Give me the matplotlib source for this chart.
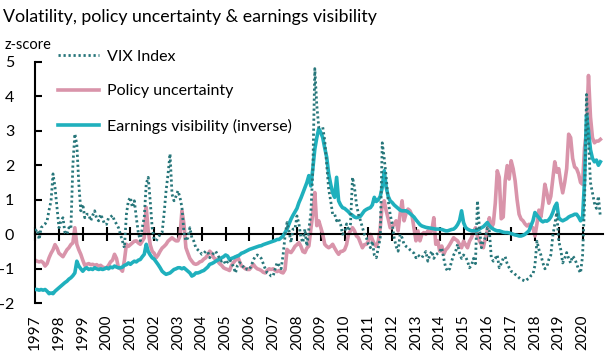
import numpy as np
import matplotlib
matplotlib.use("Agg")
import matplotlib.pyplot as plt

plt.rcParams['font.family'] = ['Lato', 'DejaVu Sans']
plt.rcParams['axes.unicode_minus'] = False

# monthly data, Jan 1997 - Oct 2020 (z-scores)
vix = [
    0.10, 0.15, -0.15, 0.19, 0.25, 0.30, 0.39, 0.70, 0.97, 1.75, 1.36, 0.78,      # 1997
    0.19, 0.39, 0.48, 0.05, 0.00, 0.19, 0.15, 2.00, 2.91, 2.60, 1.46, 0.68,       # 1998
    0.87, 0.48, 0.58, 0.58, 0.39, 0.55, 0.68, 0.45, 0.39, 0.58, 0.45, 0.29,       # 1999
    0.29, 0.48, 0.50, 0.55, 0.39, 0.30, 0.19, 0.00, -0.19, -0.39, 0.58, 0.97,     # 2000
    1.07, 0.78, 0.97, 0.48, 0.05, -0.19, 0.19, 0.50, 1.46, 1.65, 0.97, 0.19,      # 2001
    -0.15, -0.19, -0.10, 0.00, 0.05, 0.60, 1.26, 1.75, 2.33, 1.16, 0.97, 1.10,    # 2002
    1.26, 1.07, 0.78, 0.05, -0.19, -0.10, 0.19, -0.10, -0.20, -0.39, -0.45, -0.49,  # 2003
    -0.58, -0.55, -0.49, -0.50, -0.68, -0.60, -0.55, -0.49, -0.60, -0.70, -0.78, -0.75,  # 2004
    -0.87, -0.80, -0.73, -0.82, -0.95, -1.12, -0.90, -0.82, -0.85, -0.95, -1.02, -1.00,  # 2005
    -1.02, -0.90, -0.75, -0.63, -0.60, -0.63, -0.70, -0.85, -1.00, -1.12, -1.15, -1.21,  # 2006
    -1.21, -1.00, -0.82, -0.90, -1.00, -0.60, -0.05, 0.34, 0.10, -0.24, 0.15, 0.15,  # 2007
    0.53, 0.30, -0.10, -0.24, 0.15, -0.34, 0.15, 0.60, 1.84, 4.80, 3.73, 3.10,    # 2008
    3.10, 3.10, 2.72, 2.00, 1.30, 0.97, 0.58, 0.58, 0.39, 0.45, 0.29, 0.00,       # 2009
    0.05, 0.30, 0.10, 0.30, 1.65, 1.36, 0.87, 0.58, 0.40, 0.20, 0.00, -0.10,      # 2010
    -0.29, -0.39, -0.20, -0.60, -0.68, -0.40, -0.10, 2.65, 2.20, 1.65, 0.97, 0.58,  # 2011
    0.30, -0.10, -0.35, -0.49, 0.00, -0.10, -0.29, -0.35, -0.39, -0.45, -0.49, -0.55,  # 2012
    -0.68, -0.60, -0.65, -0.68, -0.58, -0.50, -0.78, -0.60, -0.49, -0.70, -0.60, -0.55,  # 2013
    -0.50, -0.39, -0.70, -0.97, -1.07, -1.00, -0.78, -0.60, -0.50, -0.29, -0.55, -0.70,  # 2014
    -0.60, -0.65, -0.78, -0.97, -0.90, -0.70, -0.85, 0.97, 0.19, -0.39, -0.20, -0.10,  # 2015
    0.19, 0.10, -0.68, -0.78, -0.70, -0.60, -0.97, -0.85, -0.70, -0.65, -0.85, -0.97,  # 2016
    -1.07, -1.10, -1.16, -1.20, -1.26, -1.31, -1.33, -1.36, -1.31, -1.28, -1.20, -1.16,  # 2017
    -0.90, -0.20, -0.44, -0.60, -0.83, -1.00, -0.95, -0.73, -0.60, -0.05, 0.30, 0.63,  # 2018
    -0.20, -0.44, -0.83, -0.70, -0.53, -0.70, -0.83, -0.63, -0.70, -0.85, -1.02, -1.12,  # 2019
    -0.63, 0.87, 4.05, 2.70, 1.50, 1.20, 0.90, 0.75, 1.10, 0.50,                  # 2020
]

policy = [
    -0.75, -0.78, -0.80, -0.78, -0.82, -0.92, -0.85, -0.68, -0.55, -0.45, -0.30, -0.40,  # 1997
    -0.55, -0.60, -0.65, -0.55, -0.45, -0.39, -0.30, -0.25, 0.19, -0.29, -0.45, -0.58,  # 1998
    -0.75, -0.90, -0.87, -0.85, -0.88, -0.87, -0.90, -0.88, -0.92, -0.90, -0.95, -0.97,  # 1999
    -0.97, -0.90, -0.80, -0.75, -0.58, -0.70, -0.97, -1.00, -1.07, -0.75, -0.29, -0.35,  # 2000
    -0.30, -0.25, -0.20, -0.19, -0.25, -0.29, -0.20, -0.10, 0.78, 0.10, -0.30, -0.49,  # 2001
    -0.55, -0.68, -0.60, -0.49, -0.40, -0.35, -0.29, -0.20, -0.15, -0.10, -0.15, -0.19,  # 2002
    -0.19, -0.05, 0.68, 0.30, -0.39, -0.55, -0.70, -0.78, -0.85, -0.87, -0.85, -0.80,  # 2003
    -0.78, -0.72, -0.68, -0.60, -0.49, -0.55, -0.68, -0.72, -0.78, -0.85, -0.90, -0.97,  # 2004
    -1.00, -1.02, -1.05, -0.90, -0.82, -0.75, -0.63, -0.78, -0.92, -0.95, -1.00, -1.02,  # 2005
    -1.02, -0.95, -0.87, -0.95, -1.00, -1.02, -1.05, -1.10, -1.12, -1.05, -1.00, -1.02,  # 2006
    -1.00, -1.05, -1.08, -1.05, -1.10, -1.12, -1.02, -0.44, -0.50, -0.53, -0.45, -0.35,  # 2007
    -0.30, -0.24, -0.35, -0.50, -0.53, -0.40, -0.34, 0.15, 0.60, 1.21, 0.25, 0.39,  # 2008
    0.20, 0.00, -0.29, -0.35, -0.39, -0.35, -0.29, -0.40, -0.50, -0.58, -0.50, -0.49,  # 2009
    -0.45, -0.30, 0.00, 0.10, 0.19, 0.10, -0.05, -0.10, -0.25, -0.39, -0.30, -0.29,  # 2010
    -0.20, 0.00, -0.15, -0.29, -0.35, -0.20, 0.19, 0.87, 0.97, 0.68, 0.45, 0.19,  # 2011
    0.19, 0.30, 0.39, 0.10, 0.58, 0.97, 0.39, 0.60, 0.73, 0.68, 0.55, 0.19,       # 2012
    -0.19, 0.10, -0.19, 0.00, 0.05, 0.00, 0.10, 0.05, 0.10, 0.48, -0.29, -0.19,   # 2013
    -0.49, -0.34, -0.58, -0.45, -0.39, -0.30, -0.20, -0.10, -0.15, -0.19, -0.30, -0.39,  # 2014
    -0.20, -0.30, -0.39, -0.20, -0.10, 0.05, 0.19, -0.05, -0.19, -0.30, -0.39, -0.10,  # 2015
    0.10, 0.48, 0.19, 0.30, 0.90, 1.84, 1.65, 0.45, 0.50, 1.55, 1.99, 1.60,       # 2016
    2.13, 1.90, 1.55, 1.00, 0.58, 0.44, 0.39, 0.30, 0.24, 0.29, 0.20, 0.19,       # 2017
    -0.05, 0.30, 0.70, 0.50, 0.90, 1.45, 1.20, 0.90, 1.10, 1.60, 2.10, 1.80,      # 2018
    1.90, 1.50, 1.20, 1.50, 1.90, 2.90, 2.80, 2.20, 1.95, 1.90, 1.75, 1.50,       # 2019
    1.45, 2.50, 3.00, 4.60, 3.40, 2.80, 2.65, 2.70, 2.70, 2.75,                   # 2020
]

earnings = [
    -1.60, -1.60, -1.62, -1.60, -1.62, -1.60, -1.65, -1.72, -1.70, -1.72, -1.65, -1.60,  # 1997
    -1.55, -1.50, -1.45, -1.40, -1.36, -1.30, -1.26, -1.20, -1.12, -0.78, -0.92, -1.00,  # 1998
    -1.07, -1.00, -0.97, -1.02, -1.00, -1.02, -0.97, -1.00, -1.02, -1.00, -1.02, -1.00,  # 1999
    -0.97, -1.00, -0.95, -0.97, -0.92, -0.95, -0.97, -0.97, -0.95, -0.90, -0.88, -0.83,  # 2000
    -0.87, -0.82, -0.78, -0.80, -0.75, -0.73, -0.65, -0.58, -0.29, -0.50, -0.60, -0.68,  # 2001
    -0.72, -0.80, -0.88, -0.97, -1.07, -1.12, -1.16, -1.14, -1.12, -1.07, -1.02, -1.00,  # 2002
    -0.97, -0.97, -1.00, -0.97, -1.02, -1.07, -1.12, -1.21, -1.18, -1.12, -1.12, -1.10,  # 2003
    -1.07, -1.05, -1.00, -0.95, -0.87, -0.85, -0.82, -0.78, -0.75, -0.72, -0.68, -0.65,  # 2004
    -0.60, -0.63, -0.73, -0.70, -0.68, -0.65, -0.63, -0.60, -0.55, -0.53, -0.50, -0.47,  # 2005
    -0.44, -0.42, -0.40, -0.38, -0.36, -0.34, -0.33, -0.30, -0.28, -0.26, -0.24, -0.22,  # 2006
    -0.20, -0.18, -0.15, -0.15, -0.10, -0.05, 0.05, 0.15, 0.30, 0.44, 0.55, 0.65,  # 2007
    0.75, 0.92, 1.05, 1.20, 1.35, 1.50, 1.70, 1.40, 1.90, 2.47, 2.80, 3.06,       # 2008
    2.95, 2.80, 2.50, 2.23, 1.75, 1.45, 1.20, 1.07, 1.65, 0.97, 0.85, 0.77,       # 2009
    0.75, 0.70, 0.65, 0.58, 0.55, 0.50, 0.48, 0.50, 0.52, 0.60, 0.68, 0.72,       # 2010
    0.75, 0.77, 0.85, 1.07, 0.95, 1.00, 1.10, 1.36, 1.84, 1.36, 1.10, 0.97,       # 2011
    0.92, 0.85, 0.80, 0.75, 0.70, 0.68, 0.68, 0.68, 0.65, 0.60, 0.55, 0.50,       # 2012
    0.42, 0.35, 0.28, 0.24, 0.22, 0.20, 0.19, 0.18, 0.17, 0.16, 0.15, 0.15,       # 2013
    0.15, 0.14, 0.12, 0.10, 0.10, 0.12, 0.14, 0.15, 0.20, 0.28, 0.40, 0.68,       # 2014
    0.34, 0.20, 0.15, 0.12, 0.10, 0.10, 0.10, 0.12, 0.15, 0.19, 0.22, 0.28,       # 2015
    0.34, 0.25, 0.19, 0.15, 0.12, 0.10, 0.10, 0.08, 0.06, 0.05, 0.05, 0.04,       # 2016
    0.02, 0.00, -0.02, -0.03, -0.05, -0.05, -0.03, 0.00, 0.05, 0.10, 0.25, 0.39,  # 2017
    0.63, 0.55, 0.48, 0.40, 0.36, 0.39, 0.38, 0.42, 0.50, 0.63, 0.80, 0.90,       # 2018
    0.48, 0.42, 0.39, 0.42, 0.45, 0.50, 0.53, 0.55, 0.58, 0.58, 0.50, 0.39,       # 2019
    0.45, 1.55, 3.45, 3.00, 2.45, 2.20, 2.10, 2.15, 2.00, 2.10,                   # 2020
]

years = list(range(1997, 2021))
yticks = [-2, -1, 0, 1, 2, 3, 4, 5]

# time axis in decimal years (one point per month)
t = 1997 + np.arange(len(vix)) / 12.0

fig = plt.figure(figsize=(6.14, 3.55), dpi=100)
ax = fig.add_axes([0.0573, 0.1456, 0.9248, 0.6806])

ax.plot(t, policy, color="#d994aa", lw=2.6, label="Policy uncertainty", zorder=2)
ax.plot(t, earnings, color="#1fb0bd", lw=2.6, label="Earnings visibility (inverse)", zorder=3)
ax.plot(t, vix, color="#27767a", lw=2.0, linestyle=(0, (0.8, 1.0)), label="VIX Index", zorder=4)

ax.set_xlim(1997, 2020.86)
ax.set_ylim(-2, 5)

# spines: left axis plus the zero line
for s in ["top", "right"]:
    ax.spines[s].set_visible(False)
ax.spines["left"].set_linewidth(1.5)
ax.spines["bottom"].set_position(("data", 0))
ax.spines["bottom"].set_linewidth(1.5)

ax.set_yticks(yticks)
ax.set_yticklabels([str(v) for v in yticks])
ax.tick_params(axis="y", direction="in", length=5, width=1.5, pad=15, labelsize=11.5)

ax.set_xticks(years)
ax.tick_params(axis="x", direction="inout", length=10, width=1.5, labelbottom=False)

# year labels at the bottom of the chart
for yr in years:
    ax.text(yr, -0.045, str(yr), transform=ax.get_xaxis_transform(),
            rotation=90, ha="center", va="top", fontsize=11)

handles, labels = ax.get_legend_handles_labels()
order = [2, 0, 1]
ax.legend([handles[i] for i in order], [labels[i] for i in order],
          loc="upper left", bbox_to_anchor=(0.04, 1.05), frameon=False,
          fontsize=11.5, handlelength=2.6, handletextpad=0.45, labelspacing=1.28,
          borderaxespad=0, borderpad=0)

fig.text(0.005, 0.952, "Volatility, policy uncertainty & earnings visibility",
         fontsize=12.8, va="center", ha="left")
fig.text(0.008, 0.873, "z-score", fontsize=10.5, va="center", ha="left")

fig.savefig("out.png", dpi=100)
